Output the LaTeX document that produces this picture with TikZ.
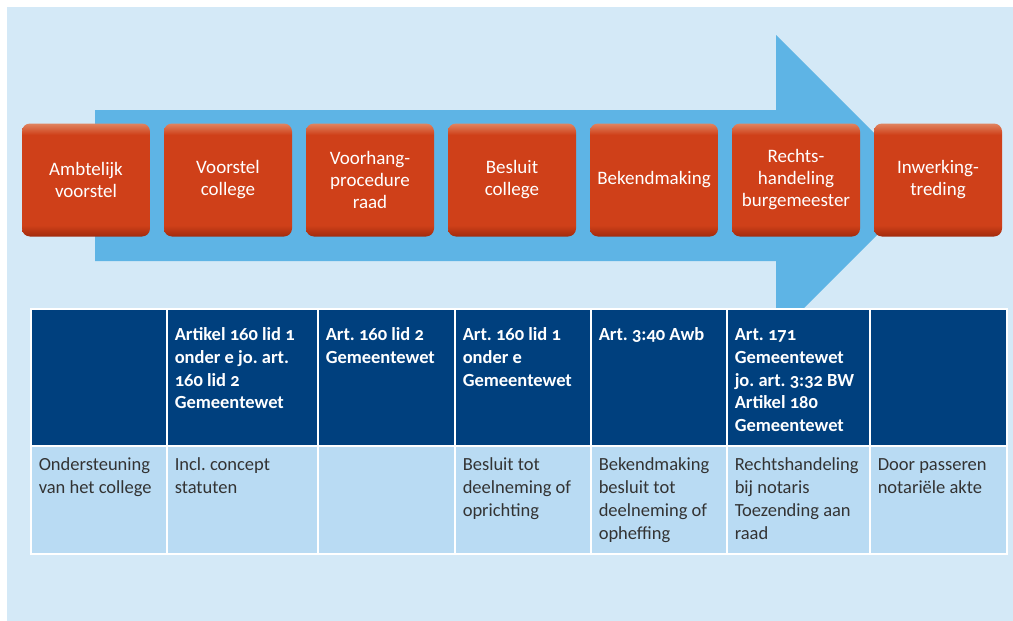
\documentclass[tikz,border=0pt]{standalone}
\usepackage{fontspec}
\setmainfont[Numbers=OldStyle]{Carlito}
\usepackage{tikz}

\definecolor{achtergrond}{HTML}{D4E9F7}
\definecolor{pijlblauw}{HTML}{5EB4E5}
\definecolor{kopblauw}{HTML}{00407E}
\definecolor{celblauw}{HTML}{B9DBF3}
\definecolor{celtekst}{HTML}{333333}
\definecolor{knoplicht}{HTML}{E08460}
\definecolor{knoprood}{HTML}{CF4019}
\definecolor{knopdonker}{HTML}{A22B0E}

\pgfdeclareverticalshading{knop}{100bp}{color(0bp)=(knopdonker); color(25bp)=(knopdonker); color(30bp)=(knoprood); color(70bp)=(knoprood); color(75bp)=(knoplicht); color(100bp)=(knoplicht)}

\begin{document}
\frenchspacing
\begin{tikzpicture}[x=1pt,y=-1pt]
    \tikzset{stap/.style = {shape=rectangle,rounded corners=8pt,shading=knop,minimum width=128pt,minimum height=113pt,inner sep=0pt,text=white,align=center,font=\fontsize{19}{22}\selectfont}}
    \tikzset{kop/.style = {shape=rectangle,draw=white,line width=1.5pt,fill=kopblauw,anchor=north west,inner xsep=8pt,inner ysep=0pt,text=white,align=flush left,font=\bfseries\fontsize{18.5}{22.7}\selectfont,text height=32pt,text depth=105pt}}
    \tikzset{rij/.style = {shape=rectangle,draw=white,line width=1.5pt,fill=celblauw,anchor=north west,inner xsep=8pt,inner ysep=0pt,text=celtekst,align=flush left,font=\fontsize{18.5}{23}\selectfont,text height=25pt,text depth=83pt}}

    \useasboundingbox (0,0) rectangle (1013,621);
    \fill[white] (0,0) rectangle (1013,621);
    \fill[achtergrond] (7,7) rectangle (1013,621);

    % grote pijl achter de stappen
    \fill[pijlblauw] (95,110) -- (776,110) -- (776,35) -- (926.5,185.5) -- (776,336) -- (776,261) -- (95,261) -- cycle;

    \node[stap] (stap1) at (86,180) {Ambtelijk\\voorstel};
    \node[stap] (stap2) at (228,180) {Voorstel\\college};
    \node[stap] (stap3) at (370,180) {Voorhang-\\procedure\\raad};
    \node[stap] (stap4) at (512,180) {Besluit\\college};
    \node[stap] (stap5) at (654,180) {Bekendmaking};
    \node[stap] (stap6) at (796,180) {Rechts-\\handeling\\burgemeester};
    \node[stap] (stap7) at (938,180) {Inwerking-\\treding};

    % tabel: kopregel
    \node[kop,text width=120pt] (kop1) at (30,308) {};
    \node[kop,text width=135pt] (kop2) at (166,308) {Artikel 160 lid 1\\onder e jo. art.\\160 lid 2\\Gemeentewet};
    \node[kop,text width=121pt] (kop3) at (317,308) {Art. 160 lid 2\\Gemeentewet};
    \node[kop,text width=120pt] (kop4) at (454,308) {Art. 160 lid 1\\onder e\\Gemeentewet};
    \node[kop,text width=120pt] (kop5) at (590,308) {Art. 3:40 Awb};
    \node[kop,text width=127pt] (kop6) at (726,308) {Art. 171\\Gemeentewet\\\makebox[127pt][l]{jo. art. 3:32 BW}\\Artikel 180\\Gemeentewet};
    \node[kop,text width=121pt] (kop7) at (869,308) {};

    % tabel: toelichting
    \node[rij,text width=120pt] (rij1) at (30,445) {Ondersteuning\\van het college};
    \node[rij,text width=135pt] (rij2) at (166,445) {Incl. concept\\statuten};
    \node[rij,text width=121pt] (rij3) at (317,445) {};
    \node[rij,text width=120pt] (rij4) at (454,445) {Besluit tot\\deelneming of\\oprichting};
    \node[rij,text width=120pt] (rij5) at (590,445) {Bekendmaking\\besluit tot\\deelneming of\\opheffing};
    \node[rij,text width=127pt] (rij6) at (726,445) {Rechtshandeling\\bij notaris\\Toezending aan\\raad};
    \node[rij,text width=121pt] (rij7) at (869,445) {Door passeren\\notariële akte};
\end{tikzpicture}
\end{document}
